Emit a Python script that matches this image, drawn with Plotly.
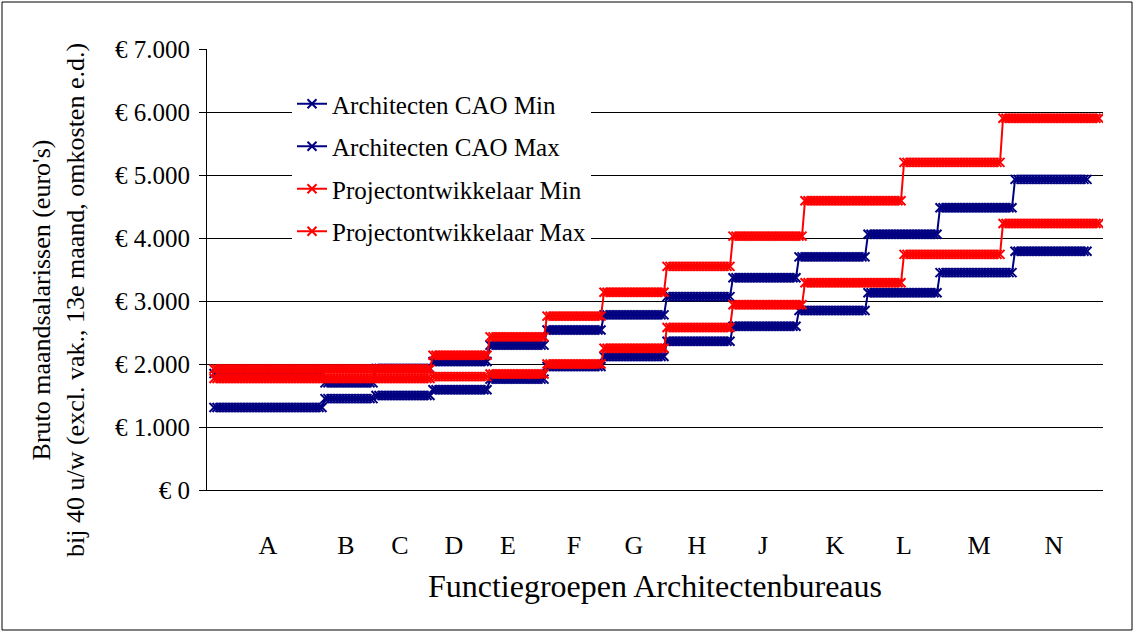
import plotly.graph_objects as go

# ---------------- data ----------------
arch_groups = ["A", "B", "C", "D", "E", "F", "G", "H", "J", "K", "L", "M", "N"]
arch_steps = [37, 17, 19, 19, 19, 19, 21, 22, 22, 23, 24, 25, 25]   # points per group
arch_min = [1310, 1450, 1500, 1590, 1760, 1960, 2120, 2360, 2600, 2850, 3130, 3450, 3790]
arch_max = [1850, 1700, 1930, 2040, 2300, 2540, 2780, 3070, 3370, 3700, 4060, 4480, 4930]

proj_groups = ["A-C", "D", "E", "F", "G", "H", "J", "K", "L", "M"]
proj_steps = [73, 19, 19, 19, 21, 22, 24, 33, 33, 33]
proj_min = [1770, 1800, 1840, 2000, 2250, 2580, 2940, 3290, 3740, 4230]
proj_max = [1920, 2140, 2430, 2760, 3140, 3550, 4030, 4590, 5200, 5900]

x_labels = arch_groups
x_label_pos = [18, 44, 62, 80, 98, 120, 140, 161, 183, 207, 230, 255, 280]
y_ticks = [0, 1000, 2000, 3000, 4000, 5000, 6000, 7000]

series_names = ["Architecten CAO Min", "Architecten CAO Max",
                "Projectontwikkelaar Min", "Projectontwikkelaar Max"]

# ---------------- build ----------------
def expand(steps, values):
    xs, ys = [], []
    i = 0
    for n, v in zip(steps, values):
        for _ in range(n):
            xs.append(i)
            ys.append(v)
            i += 1
    return xs, ys

NAVY = "#000080"
RED = "#FF0000"
FONT = "Liberation Serif"

W, H = 1135, 632
L, R, T, B = 207, 32, 49, 142
PW, PH = W - L - R, H - T - B


def px_x(px):
    return (px - L) / PW


def px_y(py):
    return (H - B - py) / PH


fig = go.Figure()
data_sets = [(arch_steps, arch_min, NAVY), (arch_steps, arch_max, NAVY),
             (proj_steps, proj_min, RED), (proj_steps, proj_max, RED)]
for k, (steps, vals, col) in enumerate(data_sets):
    xs, ys = expand(steps, vals)
    fig.add_trace(go.Scatter(
        x=xs, y=ys, mode="lines+markers", name=series_names[k],
        legendgroup=f"g{k}",
        line=dict(color=col, width=2),
        marker=dict(symbol="x-thin", size=9, color=col,
                    line=dict(color=col, width=2)),
    ))

fig.update_layout(
    width=W, height=H,
    margin=dict(l=L, r=R, t=T, b=B, autoexpand=False),
    paper_bgcolor="white", plot_bgcolor="white",
    font=dict(family=FONT, color="black", size=25),
    showlegend=True,
    legend=dict(x=px_x(292), y=px_y(81), xanchor="left", yanchor="top",
                bgcolor="white", font=dict(size=25, family=FONT),
                tracegroupgap=7),
    xaxis=dict(range=[-2.33, 296.33], tickmode="array", tickvals=x_label_pos,
               ticktext=x_labels, ticks="", showgrid=False, zeroline=False,
               showline=True, linecolor="black", linewidth=1,
               tickfont=dict(size=26, family=FONT), ticklabelstandoff=32,
               automargin=False,
               title=dict(text="Functiegroepen Architectenbureaus",
                          font=dict(size=32, family=FONT), standoff=15)),
    yaxis=dict(range=[0, 7000], tickmode="array", tickvals=y_ticks,
               ticktext=["€ " + f"{v:,}".replace(",", ".") for v in y_ticks],
               ticks="outside", ticklen=7, tickcolor="black",
               showgrid=True, gridcolor="black", gridwidth=1, zeroline=False,
               showline=True, linecolor="black", linewidth=1,
               tickfont=dict(size=25, family=FONT), ticklabelstandoff=4,
               automargin=False),
    annotations=[dict(
        text="Bruto maandsalarissen (euro's)<br>bij 40 u/w (excl. vak., 13e maand, omkosten e.d.)",
        xref="paper", yref="paper", x=px_x(58), y=px_y(300),
        xanchor="center", yanchor="middle", textangle=-90, showarrow=False,
        font=dict(size=26, family=FONT, color="black"))],
    shapes=[dict(type="rect", xref="paper", yref="paper",
                 x0=px_x(2), x1=px_x(1132), y0=px_y(630), y1=px_y(2),
                 line=dict(color="black", width=1), layer="below")],
)

fig.write_html("out.html", config={"displayModeBar": False},
               post_script="document.body.style.margin='0px';")
